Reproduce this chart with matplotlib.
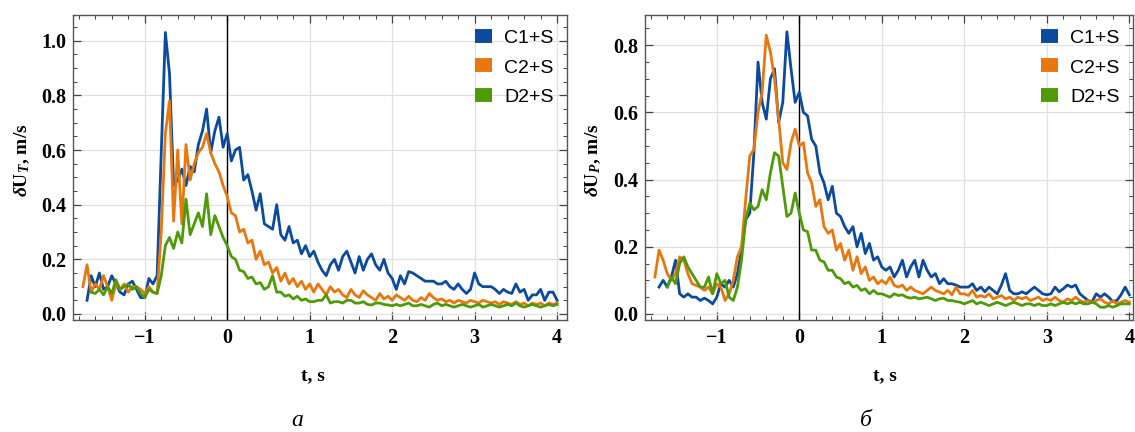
import numpy as np
import matplotlib
matplotlib.use("Agg")
import matplotlib.pyplot as plt
from matplotlib.ticker import MultipleLocator, FormatStrFormatter

plt.rcParams['font.family'] = ['Liberation Serif', 'DejaVu Serif']
plt.rcParams['mathtext.fontset'] = 'custom'
plt.rcParams['mathtext.rm'] = 'Liberation Serif:bold'
plt.rcParams['mathtext.it'] = 'Liberation Serif:italic:bold'
plt.rcParams['mathtext.bf'] = 'Liberation Serif:bold'

nan = np.nan
t0 = -1.75
dt = 0.05

labels = ['C1+S', 'C2+S', 'D2+S']
colors = ['#0a4a9f', '#e8770e', '#4f9a08']

# panel a: dU_T
uT_c1 = [nan, 0.05, 0.14, 0.10, 0.15, 0.09, 0.10, 0.14, 0.11, 0.08,
         0.07, 0.11, 0.12, 0.09, 0.06, 0.06, 0.13, 0.11, 0.14, 0.59,
         1.03, 0.88, 0.47, 0.49, 0.53, 0.47, 0.54, 0.52, 0.62, 0.67,
         0.75, 0.59, 0.67, 0.72, 0.61, 0.66, 0.56, 0.60, 0.61, 0.49,
         0.51, 0.45, 0.38, 0.44, 0.33, 0.32, 0.31, 0.40, 0.29, 0.27,
         0.32, 0.26, 0.27, 0.22, 0.25, 0.21, 0.23, 0.19, 0.16, 0.14,
         0.18, 0.20, 0.16, 0.21, 0.23, 0.19, 0.15, 0.21, 0.16, 0.20,
         0.22, 0.18, 0.16, 0.20, 0.15, 0.13, 0.09, 0.14, 0.11, 0.155,
         0.15, 0.14, 0.13, 0.12, 0.12, 0.12, 0.11, 0.11, 0.12, 0.10,
         0.09, 0.11, 0.09, 0.075, 0.09, 0.15, 0.11, 0.10, 0.10, 0.10,
         0.09, 0.075, 0.09, 0.08, 0.075, 0.11, 0.08, 0.09, 0.05, 0.07,
         0.07, 0.09, 0.05, 0.08, 0.08, 0.05]
uT_c2 = [0.10, 0.18, 0.08, 0.11, 0.09, 0.14, 0.10, 0.05, 0.11, 0.09,
         0.11, 0.08, 0.10, 0.10, 0.09, 0.075, 0.10, 0.08, 0.075, 0.30,
         0.66, 0.78, 0.34, 0.60, 0.33, 0.62, 0.49, 0.55, 0.59, 0.61,
         0.66, 0.59, 0.55, 0.52, 0.47, 0.43, 0.37, 0.36, 0.30, 0.31,
         0.26, 0.27, 0.20, 0.23, 0.18, 0.19, 0.15, 0.17, 0.12, 0.15,
         0.11, 0.13, 0.10, 0.12, 0.09, 0.11, 0.08, 0.11, 0.09, 0.07,
         0.10, 0.08, 0.09, 0.07, 0.06, 0.09, 0.07, 0.06, 0.085, 0.07,
         0.06, 0.05, 0.075, 0.055, 0.065, 0.05, 0.07, 0.06, 0.05, 0.065,
         0.05, 0.045, 0.06, 0.05, 0.075, 0.06, 0.05, 0.055, 0.045, 0.05,
         0.04, 0.05, 0.045, 0.04, 0.05, 0.045, 0.04, 0.05, 0.045, 0.04,
         0.045, 0.035, 0.045, 0.04, 0.035, 0.045, 0.035, 0.04, 0.03, 0.04,
         0.035, 0.04, 0.03, 0.04, 0.035, 0.04]
uT_d2 = [nan, nan, 0.08, 0.075, 0.09, 0.07, 0.10, 0.075, 0.125, 0.09,
         0.10, 0.11, 0.09, 0.10, 0.075, 0.06, 0.09, 0.08, 0.075, 0.14,
         0.25, 0.28, 0.24, 0.30, 0.26, 0.42, 0.29, 0.33, 0.37, 0.32,
         0.44, 0.29, 0.36, 0.32, 0.28, 0.25, 0.21, 0.20, 0.16, 0.155,
         0.13, 0.135, 0.11, 0.115, 0.09, 0.10, 0.14, 0.08, 0.08, 0.065,
         0.07, 0.055, 0.065, 0.05, 0.055, 0.045, 0.045, 0.05, 0.05, 0.07,
         0.04, 0.045, 0.045, 0.04, 0.05, 0.05, 0.04, 0.04, 0.045, 0.035,
         0.033, 0.04, 0.04, 0.035, 0.033, 0.03, 0.035, 0.03, 0.035, 0.04,
         0.03, 0.03, 0.035, 0.03, 0.025, 0.035, 0.04, 0.03, 0.035, 0.03,
         0.025, 0.03, 0.035, 0.03, 0.025, 0.03, 0.035, 0.025, 0.03, 0.035,
         0.03, 0.025, 0.03, 0.035, 0.03, 0.04, 0.03, 0.025, 0.03, 0.035,
         0.03, 0.025, 0.03, 0.035, 0.03, 0.035]

# panel b: dU_P
uP_c1 = [nan, 0.08, 0.10, 0.08, 0.11, 0.16, 0.06, 0.05, 0.06, 0.05,
         0.05, 0.04, 0.047, 0.04, 0.03, 0.05, 0.09, 0.08, 0.10, 0.08,
         0.12, 0.19, 0.28, 0.30, 0.48, 0.75, 0.63, 0.58, 0.70, 0.73,
         0.57, 0.63, 0.84, 0.73, 0.63, 0.66, 0.60, 0.59, 0.52, 0.50,
         0.42, 0.39, 0.34, 0.38, 0.30, 0.29, 0.26, 0.24, 0.26, 0.20,
         0.24, 0.18, 0.21, 0.16, 0.17, 0.14, 0.13, 0.14, 0.11, 0.13,
         0.16, 0.11, 0.14, 0.16, 0.11, 0.16, 0.13, 0.11, 0.12, 0.09,
         0.105, 0.09, 0.09, 0.086, 0.08, 0.08, 0.08, 0.09, 0.07, 0.08,
         0.066, 0.08, 0.07, 0.06, 0.086, 0.12, 0.07, 0.06, 0.06, 0.066,
         0.06, 0.07, 0.08, 0.07, 0.06, 0.057, 0.06, 0.08, 0.066, 0.075,
         0.086, 0.08, 0.086, 0.06, 0.05, 0.04, 0.037, 0.06, 0.05, 0.06,
         0.05, 0.037, 0.04, 0.057, 0.08, 0.057]
uP_c2 = [0.11, 0.19, 0.16, 0.12, 0.10, 0.12, 0.17, 0.16, 0.12, 0.09,
         0.085, 0.08, 0.07, 0.08, 0.06, 0.09, 0.08, 0.04, 0.06, 0.10,
         0.17, 0.20, 0.34, 0.47, 0.49, 0.60, 0.66, 0.83, 0.78, 0.70,
         0.58, 0.45, 0.43, 0.51, 0.55, 0.50, 0.51, 0.42, 0.39, 0.32,
         0.34, 0.26, 0.24, 0.25, 0.19, 0.21, 0.16, 0.19, 0.13, 0.17,
         0.12, 0.14, 0.10, 0.11, 0.09, 0.10, 0.09, 0.11, 0.085, 0.08,
         0.086, 0.07, 0.08, 0.07, 0.065, 0.06, 0.07, 0.08, 0.07, 0.065,
         0.06, 0.07, 0.057, 0.08, 0.06, 0.06, 0.055, 0.07, 0.05, 0.055,
         0.05, 0.06, 0.045, 0.05, 0.055, 0.045, 0.05, 0.04, 0.05, 0.045,
         0.05, 0.04, 0.045, 0.05, 0.04, 0.045, 0.04, 0.05, 0.04, 0.035,
         0.045, 0.04, 0.05, 0.04, 0.035, 0.04, 0.035, 0.04, 0.045, 0.035,
         0.03, 0.04, 0.03, 0.035, 0.04, 0.035]
uP_d2 = [nan, nan, nan, 0.08, 0.11, 0.09, 0.15, 0.17, 0.14, 0.12,
         0.10, 0.08, 0.08, 0.11, 0.06, 0.12, 0.09, 0.10, 0.05, 0.04,
         0.08, 0.16, 0.28, 0.33, 0.31, 0.32, 0.37, 0.34, 0.42, 0.48,
         0.47, 0.38, 0.29, 0.30, 0.36, 0.30, 0.25, 0.245, 0.19, 0.19,
         0.16, 0.155, 0.13, 0.13, 0.11, 0.105, 0.09, 0.095, 0.08, 0.085,
         0.07, 0.075, 0.06, 0.07, 0.06, 0.06, 0.055, 0.05, 0.06, 0.055,
         0.057, 0.05, 0.047, 0.05, 0.045, 0.047, 0.05, 0.045, 0.04, 0.045,
         0.047, 0.04, 0.04, 0.037, 0.035, 0.03, 0.035, 0.04, 0.03, 0.035,
         0.03, 0.025, 0.03, 0.035, 0.03, 0.025, 0.03, 0.035, 0.03, 0.025,
         0.03, 0.03, 0.025, 0.03, 0.025, 0.025, 0.03, 0.025, 0.03, 0.035,
         0.03, 0.035, 0.03, 0.035, 0.03, 0.03, 0.035, 0.03, 0.02, 0.02,
         0.025, 0.02, 0.025, 0.03, 0.03, 0.03]

panels = [
    dict(series=[uT_c1, uT_c2, uT_d2], ylab=r'$\delta$U$_{\mathit{T}}$, m/s',
         rect=[73, 112, 494, 305], xlim=(-1.87, 4.12), ylim=(-0.022, 1.094),
         xlab_x=313, cap='а', cap_x=297, ylab_x=22),
    dict(series=[uP_c1, uP_c2, uP_d2], ylab=r'$\delta$U$_{\mathit{P}}$, m/s',
         rect=[645, 112, 488, 305], xlim=(-1.87, 4.045), ylim=(-0.018, 0.89),
         xlab_x=885, cap='б', cap_x=866, ylab_x=593),
]

W, H = 1135, 432
fig = plt.figure(figsize=(W / 100, H / 100), dpi=100)

for p in panels:
    x0, y0, w, h = p['rect']
    ax = fig.add_axes([x0 / W, y0 / H, w / W, h / H])
    ax.grid(True, color='#e0e0e0', lw=0.9)
    ax.axvline(0, color='black', lw=1.0, zorder=2)
    for vals, c, lab in zip(p['series'], colors, labels):
        v = np.array(vals, dtype=float)
        t = t0 + dt * np.arange(len(v))
        ax.plot(t, v, color=c, lw=2.0, label=lab, zorder=3)
    ax.set_xlim(*p['xlim'])
    ax.set_ylim(*p['ylim'])
    ax.xaxis.set_major_locator(MultipleLocator(1))
    ax.xaxis.set_minor_locator(MultipleLocator(0.2))
    ax.yaxis.set_major_locator(MultipleLocator(0.2))
    ax.yaxis.set_minor_locator(MultipleLocator(0.05))
    ax.yaxis.set_major_formatter(FormatStrFormatter('%.1f'))
    ax.tick_params(which='both', direction='in', top=True, right=True,
                   color='#444444', labelsize=14.5)
    ax.tick_params(which='major', length=6, width=0.9)
    ax.tick_params(which='minor', length=3, width=0.7)
    ax.tick_params(axis='x', pad=6)
    ax.tick_params(axis='y', pad=5)
    for lbl in ax.get_xticklabels() + ax.get_yticklabels():
        lbl.set_fontweight('bold')
    for s in ax.spines.values():
        s.set_color('#555555')
        s.set_linewidth(1.0)
    leg = ax.legend(loc='upper right', frameon=False, handlelength=0.9,
                    handleheight=0.9, handletextpad=0.6, labelspacing=0.55,
                    borderaxespad=0.3,
                    prop={'family': 'Liberation Sans', 'size': 14})
    for hnd in leg.legend_handles:
        hnd.set_linewidth(10)
        hnd.set_solid_capstyle('butt')
    fig.text(p['ylab_x'] / W, (H - 160) / H, p['ylab'], rotation=90,
             ha='center', va='center', fontsize=14, fontweight='bold')
    fig.text(p['xlab_x'] / W, (H - 376) / H, 't, s', ha='center',
             va='center', fontsize=14, fontweight='bold')
    fig.text(p['cap_x'] / W, (H - 420) / H, p['cap'], ha='center',
             va='center', fontsize=17, style='italic')

fig.savefig('out.png', dpi=100)
